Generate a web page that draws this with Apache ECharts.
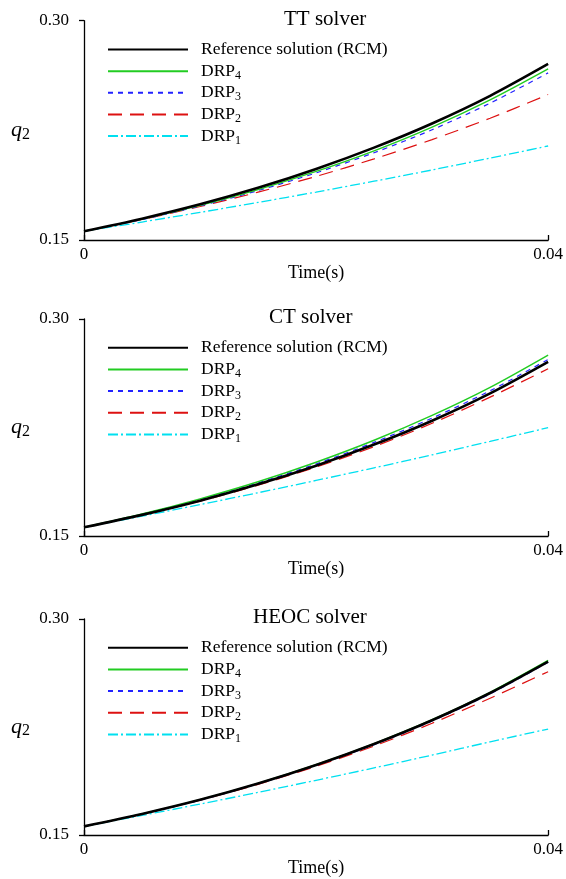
<!DOCTYPE html>
<html><head><meta charset="utf-8">
<script src="https://cdn.jsdelivr.net/npm/echarts@6/dist/echarts.min.js"></script>
<style>html,body{margin:0;padding:0;background:#fff}#c{width:566px;height:879px}</style>
</head><body><div id="c"></div>
<script>
// ---- data ----
const time = [0, 0.005, 0.01, 0.015, 0.02, 0.025, 0.03, 0.035, 0.04];
const seriesNames = ['Reference solution (RCM)', 'DRP4', 'DRP3', 'DRP2', 'DRP1'];
const panelTitles = ['TT solver', 'CT solver', 'HEOC solver'];
const yTicks = [0.15, 0.30];
const xTicks = [0, 0.04];

const refRCM = [0.156, 0.1646, 0.1744, 0.1857, 0.1986, 0.2132, 0.2297, 0.2486, 0.2704];

const ttDRP4 = [0.156, 0.1643, 0.1737, 0.1845, 0.1969, 0.2110, 0.2272, 0.2458, 0.2670];
const ttDRP3 = [0.156, 0.1640, 0.1733, 0.1838, 0.1959, 0.2097, 0.2254, 0.2436, 0.2643];
const ttDRP2 = [0.156, 0.1640, 0.1729, 0.1827, 0.1935, 0.2055, 0.2187, 0.2333, 0.2495];
const ttDRP1 = [0.156, 0.1623, 0.1689, 0.1757, 0.1828, 0.1902, 0.1979, 0.2060, 0.2143];

const ctDRP4 = [0.156, 0.1652, 0.1757, 0.1875, 0.2010, 0.2162, 0.2334, 0.2528, 0.2751];
const ctDRP3 = [0.156, 0.1650, 0.1752, 0.1867, 0.1998, 0.2147, 0.2315, 0.2504, 0.2721];
const ctDRP2 = [0.156, 0.1645, 0.1741, 0.1851, 0.1976, 0.2118, 0.2279, 0.2460, 0.2656];
const ctDRP1 = [0.156, 0.1637, 0.1717, 0.1799, 0.1884, 0.1971, 0.2061, 0.2154, 0.2249];

const heDRP4 = [0.156, 0.1647, 0.1746, 0.1859, 0.1988, 0.2135, 0.2301, 0.2491, 0.2712];
const heDRP3 = [0.156, 0.1645, 0.1742, 0.1855, 0.1983, 0.2128, 0.2292, 0.2480, 0.2700];
const heDRP2 = [0.156, 0.1645, 0.1742, 0.1852, 0.1977, 0.2118, 0.2276, 0.2450, 0.2634];
const heDRP1 = [0.156, 0.1636, 0.1715, 0.1796, 0.1880, 0.1966, 0.2055, 0.2147, 0.2236];

const panels = [
  [refRCM, ttDRP4, ttDRP3, ttDRP2, ttDRP1],
  [refRCM, ctDRP4, ctDRP3, ctDRP2, ctDRP1],
  [refRCM, heDRP4, heDRP3, heDRP2, heDRP1]
];

// ---- styles ----
const FONT = "'Liberation Serif','Times New Roman',serif";
const styles = [
  {color: '#000000', width: 2.6, type: 'solid'},
  {color: '#22cc22', width: 1.4, type: 'solid'},
  {color: '#2222ff', width: 1.2, type: [5, 5]},
  {color: '#dd1111', width: 1.2, type: [14, 8]},
  {color: '#00e0f0', width: 1.3, type: [10, 3, 2, 3]}
];
const grids = [
  {left: 84, width: 467, top: 20.7, height: 219.3},
  {left: 84, width: 467, top: 319, height: 217},
  {left: 84, width: 467, top: 619, height: 216}
];
const titleLeft = [284, 269, 253];

const option = {
  animation: false,
  backgroundColor: '#fff',
  title: [], grid: grids, xAxis: [], yAxis: [], legend: [], series: []
};

grids.forEach((g, i) => {
  option.title.push({
    text: panelTitles[i], left: titleLeft[i], top: g.top - 12, padding: 0,
    textStyle: {fontFamily: FONT, fontSize: 21, fontWeight: 'normal', color: '#000'}
  });
  option.xAxis.push({
    type: 'value', gridIndex: i, min: xTicks[0], max: xTicks[1], interval: 0.04,
    name: 'Time(s)', nameLocation: 'middle', nameGap: 24,
    nameTextStyle: {fontFamily: FONT, fontSize: 18, color: '#000'},
    axisLine: {lineStyle: {color: '#000', width: 1.3}},
    axisTick: {show: true, inside: true, length: 5, lineStyle: {color: '#000', width: 1.3}},
    axisLabel: {fontFamily: FONT, fontSize: 17, color: '#000', margin: 6,
      formatter: v => (v === 0 ? '0' : v.toFixed(2))},
    splitLine: {show: false}
  });
  option.yAxis.push({
    type: 'value', gridIndex: i, min: yTicks[0], max: yTicks[1], interval: 0.15,
    name: '{q|q}{s|2}', nameLocation: 'middle', nameRotate: 0, nameGap: 54,
    nameTextStyle: {rich: {
      q: {fontFamily: FONT, fontSize: 22, fontStyle: 'italic', color: '#000', lineHeight: 22},
      s: {fontFamily: FONT, fontSize: 16, color: '#000', padding: [8, 0, 0, 0], lineHeight: 22}
    }},
    axisLine: {show: true, lineStyle: {color: '#000', width: 1.3}},
    axisTick: {show: true, inside: false, length: 5, lineStyle: {color: '#000', width: 1.3}},
    axisLabel: {fontFamily: FONT, fontSize: 17, color: '#000', margin: 15,
      formatter: v => v.toFixed(2)},
    splitLine: {show: false}
  });
  option.legend.push({
    orient: 'vertical', left: 107, top: g.top + 18.3, padding: 0,
    itemWidth: 80, itemHeight: 14, itemGap: 0.65,
    itemStyle: {opacity: 0, borderWidth: 0},
    data: seriesNames.slice(),
    formatter: name => {
      const m = name.match(/^DRP(\d)$/);
      return m ? '{a|DRP}{s|' + m[1] + '}' : '{a|' + name + '}{s| }';
    },
    textStyle: {
      padding: [0, 0, 0, 8],
      rich: {
        a: {fontFamily: FONT, fontSize: 17.5, color: '#000', lineHeight: 14},
        s: {fontFamily: FONT, fontSize: 12, color: '#000', lineHeight: 14, padding: [9, 0, 0, 0]}
      }
    }
  });
  const data = panels[i];
  const order = [4, 3, 2, 1, 0];
  order.forEach(k => {
    option.series.push({
      type: 'line', name: seriesNames[k], xAxisIndex: i, yAxisIndex: i,
      data: time.map((t, j) => [t, data[k][j]]),
      smooth: 0.3, showSymbol: false, symbol: 'none',
      lineStyle: {color: styles[k].color, width: styles[k].width, type: styles[k].type},
      itemStyle: {color: styles[k].color}
    });
  });
});

const chart = echarts.init(document.getElementById('c'), null, {renderer: 'canvas'});
chart.setOption(option);
</script>
</body></html>
